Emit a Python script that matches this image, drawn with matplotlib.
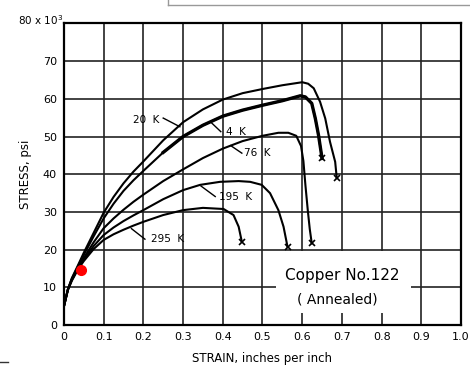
import matplotlib
matplotlib.use("Agg")
import matplotlib.pyplot as plt
from matplotlib.patches import Rectangle
from matplotlib.lines import Line2D

# curvas esfuerzo-deformacion (deformacion, esfuerzo en ksi)
strain_20k = [0, 0.01, 0.02, 0.035, 0.05, 0.075, 0.1, 0.125, 0.15, 0.175, 0.2, 0.25, 0.3,
              0.35, 0.4, 0.45, 0.5, 0.55, 0.6, 0.615, 0.629, 0.645, 0.658, 0.67, 0.683, 0.687]
stress_20k = [5, 9.5, 12.5, 15.8, 19.2, 24.5, 29.8, 34, 37.6, 40.7, 43.4, 49, 53.8,
              57.2, 59.8, 61.5, 62.6, 63.6, 64.4, 64, 62.8, 59.2, 54.8, 48.6, 43.3, 39]

strain_4k = [0, 0.01, 0.02, 0.035, 0.05, 0.075, 0.1, 0.125, 0.15, 0.175, 0.2, 0.25, 0.3,
             0.35, 0.4, 0.45, 0.5, 0.55, 0.595, 0.608, 0.624, 0.633, 0.641, 0.65]
stress_4k = [5, 9.5, 12.3, 15.5, 18.6, 23.6, 28.3, 32.2, 35.6, 38.4, 40.9, 45.8, 50,
             53, 55.4, 57, 58.3, 59.5, 60.8, 60.5, 58.8, 54.8, 50.4, 44.2]
inicio_grueso_4k = 11  # desde 0.25 la traza del 4 K es mas gruesa

strain_76k = [0, 0.01, 0.02, 0.035, 0.05, 0.075, 0.1, 0.125, 0.15, 0.175, 0.2, 0.25, 0.3,
              0.35, 0.4, 0.45, 0.5, 0.54, 0.565, 0.585, 0.597, 0.603, 0.608, 0.614, 0.619, 0.624]
stress_76k = [5, 9.5, 12.1, 15.2, 17.8, 22, 25.7, 28.3, 30.6, 32.7, 34.6, 38.2, 41.3,
              44.3, 46.8, 48.8, 50.2, 51, 51, 50.2, 47.5, 43.5, 37.2, 30.5, 25.5, 21.7]

strain_195k = [0, 0.01, 0.02, 0.035, 0.05, 0.075, 0.1, 0.125, 0.15, 0.175, 0.2, 0.25, 0.3,
               0.343, 0.393, 0.44, 0.469, 0.498, 0.519, 0.54, 0.553, 0.563]
stress_195k = [5, 9.4, 12, 15, 17.4, 21, 23.9, 25.9, 27.6, 29.1, 30.5, 33.4, 35.8,
               37.2, 38, 38.2, 38, 37.2, 35, 30.5, 26.1, 20.8]

strain_295k = [0, 0.01, 0.02, 0.035, 0.05, 0.075, 0.1, 0.125, 0.15, 0.175, 0.2, 0.25, 0.3,
               0.35, 0.402, 0.427, 0.44, 0.448]
stress_295k = [5, 9.3, 11.8, 14.7, 17, 20.2, 22.6, 24.1, 25.3, 26.4, 27.4, 29.2, 30.5,
               31.1, 30.8, 29.2, 26.1, 22.1]

curvas = [(strain_20k, stress_20k), (strain_4k, stress_4k), (strain_76k, stress_76k),
          (strain_195k, stress_195k), (strain_295k, stress_295k)]

# etiquetas: texto, posicion del texto, linea guia (inicio, fin)
etiquetas = ["20  K", "4  K", "76  K", "195  K", "295  K"]
pos_texto = [(0.207, 54.4), (0.433, 51.3), (0.487, 45.6), (0.433, 34.0), (0.262, 22.8)]
guia_ini = [(0.292, 52.6), (0.37, 53.8), (0.42, 47.6), (0.345, 36.9), (0.17, 25.6)]
guia_fin = [(0.25, 54.9), (0.395, 51.3), (0.448, 45.6), (0.381, 34.1), (0.204, 22.8)]

x_ticks = [0, 0.1, 0.2, 0.3, 0.4, 0.5, 0.6, 0.7, 0.8, 0.9, 1.0]
x_labels = ["0", "0.1", "0.2", "0.3", "0.4", "0.5", "0.6", "0.7", "0.8", "0.9", "1.0"]
y_ticks = [0, 10, 20, 30, 40, 50, 60, 70, 80]
y_labels = ["0", "10", "20", "30", "40", "50", "60", "70", ""]

punto_rojo = (0.043, 14.6)

fig = plt.figure(figsize=(4.7, 3.65), dpi=100)
ax = fig.add_axes([0.136, 0.109, 0.845, 0.827])

ax.set_xlim(0, 1.0)
ax.set_ylim(0, 80)
ax.set_xticks(x_ticks)
ax.set_xticklabels(x_labels)
ax.set_yticks(y_ticks)
ax.set_yticklabels(y_labels)
ax.tick_params(length=0, labelsize=8, pad=5)
ax.grid(True, color="#222222", linewidth=1.2)
ax.set_axisbelow(True)
for s in ax.spines.values():
    s.set_linewidth(1.6)

# recuadro blanco bajo el titulo del material
ax.add_patch(Rectangle((0.535, 3.2), 0.34, 16.4, facecolor="white",
                       edgecolor="none", zorder=1.5))

for x, y in curvas:
    ax.plot(x, y, color="black", linewidth=1.5, zorder=3)
    ax.plot(x[-1], y[-1], marker="x", color="black", markersize=4,
            markeredgewidth=1.2, zorder=3)

# tramo grueso y dentado del 4 K
ax.plot(strain_4k[inicio_grueso_4k:], stress_4k[inicio_grueso_4k:], color="black",
        linewidth=2.4, zorder=3)

for txt, p, a, b in zip(etiquetas, pos_texto, guia_ini, guia_fin):
    ax.plot([a[0], b[0]], [a[1], b[1]], color="black", linewidth=1, zorder=3)
    ax.text(p[0], p[1], txt, fontsize=7.5, ha="center", va="center", zorder=4)

ax.plot(punto_rojo[0], punto_rojo[1], "o", color="red", markersize=7, zorder=5)

ax.text(0.70, 13.3, "Copper No.122", fontsize=11, ha="center", va="center", zorder=4)
ax.text(0.688, 6.9, "( Annealed)", fontsize=10, ha="center", va="center", zorder=4)

ax.set_ylabel("STRESS, psi", fontsize=8.5, labelpad=8)
ax.set_xlabel("STRAIN, inches per inch", fontsize=8.5, labelpad=7)
fig.text(0.135, 0.946, r"80 x 10$^3$", fontsize=7.5, ha="right", va="center")

# restos del escaneo
fig.add_artist(Line2D([168 / 470, 1.0], [1 - 5 / 365, 1 - 5 / 365], color="#999999", linewidth=1))
fig.add_artist(Line2D([168 / 470, 168 / 470], [1.0, 1 - 5 / 365], color="#999999", linewidth=1))
fig.add_artist(Line2D([0, 8 / 470], [3 / 365, 3 / 365], color="#333333", linewidth=1))

fig.savefig("out.png", dpi=100)
